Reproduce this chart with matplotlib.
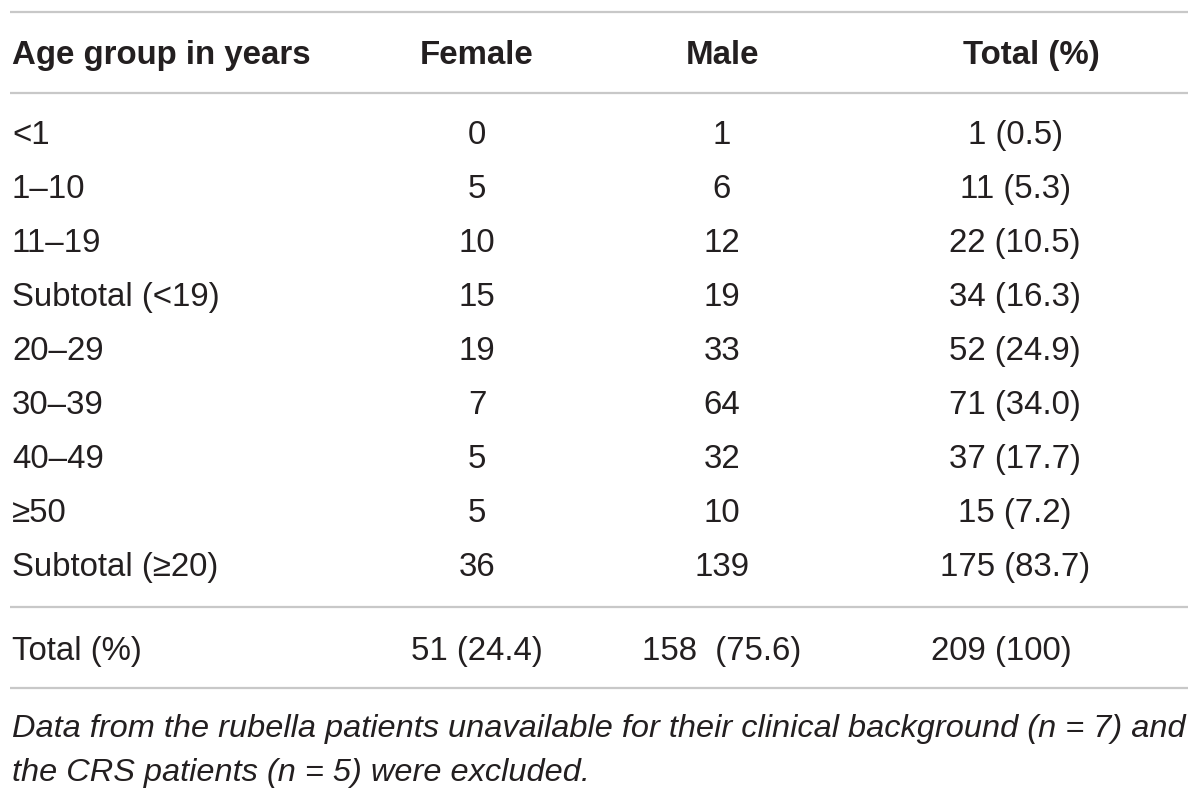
import matplotlib
matplotlib.use("Agg")
import matplotlib.pyplot as plt

# table contents
headers = ["Age group in years", "Female", "Male", "Total (%)"]
age_groups = ["<1", "1–10", "11–19", "Subtotal (<19)", "20–29", "30–39",
              "40–49", "≥50", "Subtotal (≥20)"]
female = ["0", "5", "10", "15", "19", "7", "5", "5", "36"]
male = ["1", "6", "12", "19", "33", "64", "32", "10", "139"]
total = ["1 (0.5)", "11 (5.3)", "22 (10.5)", "34 (16.3)", "52 (24.9)",
         "71 (34.0)", "37 (17.7)", "15 (7.2)", "175 (83.7)"]
total_row = ["Total (%)", "51 (24.4)", "158  (75.6)", "209 (100)"]
footnote = ["Data from the rubella patients unavailable for their clinical background (n = 7) and",
            "the CRS patients (n = 5) were excluded."]

W, H = 1200, 793
text_col = "#231f20"
rule_col = "#c8c8c8"
fs = 23.8
plt.rcParams['font.family'] = ['Liberation Sans', 'DejaVu Sans']

fig = plt.figure(figsize=(W / 100, H / 100), dpi=100)
ax = fig.add_axes([0, 0, 1, 1])
ax.set_xlim(0, W)
ax.set_ylim(H, 0)
ax.axis('off')

x_left = 12
x_cols = [477, 722, 1015]
x_head_total = 1031

# horizontal rules
for y in [12, 93, 607, 688]:
    ax.plot([10, 1188], [y, y], color=rule_col, lw=1.6, solid_capstyle='butt')

# header
y_head = 52
ax.text(x_left, y_head, headers[0], fontsize=fs, fontweight='bold', color=text_col,
        ha='left', va='center_baseline')
for x, h in zip([x_cols[0], x_cols[1], x_head_total], headers[1:]):
    ax.text(x, y_head, h, fontsize=fs, fontweight='bold', color=text_col,
            ha='center', va='center_baseline')

# body rows
y0, pitch = 132, 54.0
for i in range(len(age_groups)):
    y = y0 + i * pitch
    ax.text(x_left, y, age_groups[i], fontsize=fs, color=text_col, ha='left', va='center_baseline')
    for x, col in zip(x_cols, [female, male, total]):
        ax.text(x, y, col[i], fontsize=fs, color=text_col, ha='center', va='center_baseline')

# total row
y_tot = 648
ax.text(x_left, y_tot, total_row[0], fontsize=fs, color=text_col, ha='left', va='center_baseline')
for x, s in zip([x_cols[0], x_cols[1], 1001], total_row[1:]):
    ax.text(x, y_tot, s, fontsize=fs, color=text_col, ha='center', va='center_baseline')

# footnote
for j, line in enumerate(footnote):
    ax.text(x_left, 725 + j * 45, line, fontsize=23.4, style='italic', color=text_col,
            ha='left', va='center_baseline')

fig.savefig("out.png", dpi=100)
